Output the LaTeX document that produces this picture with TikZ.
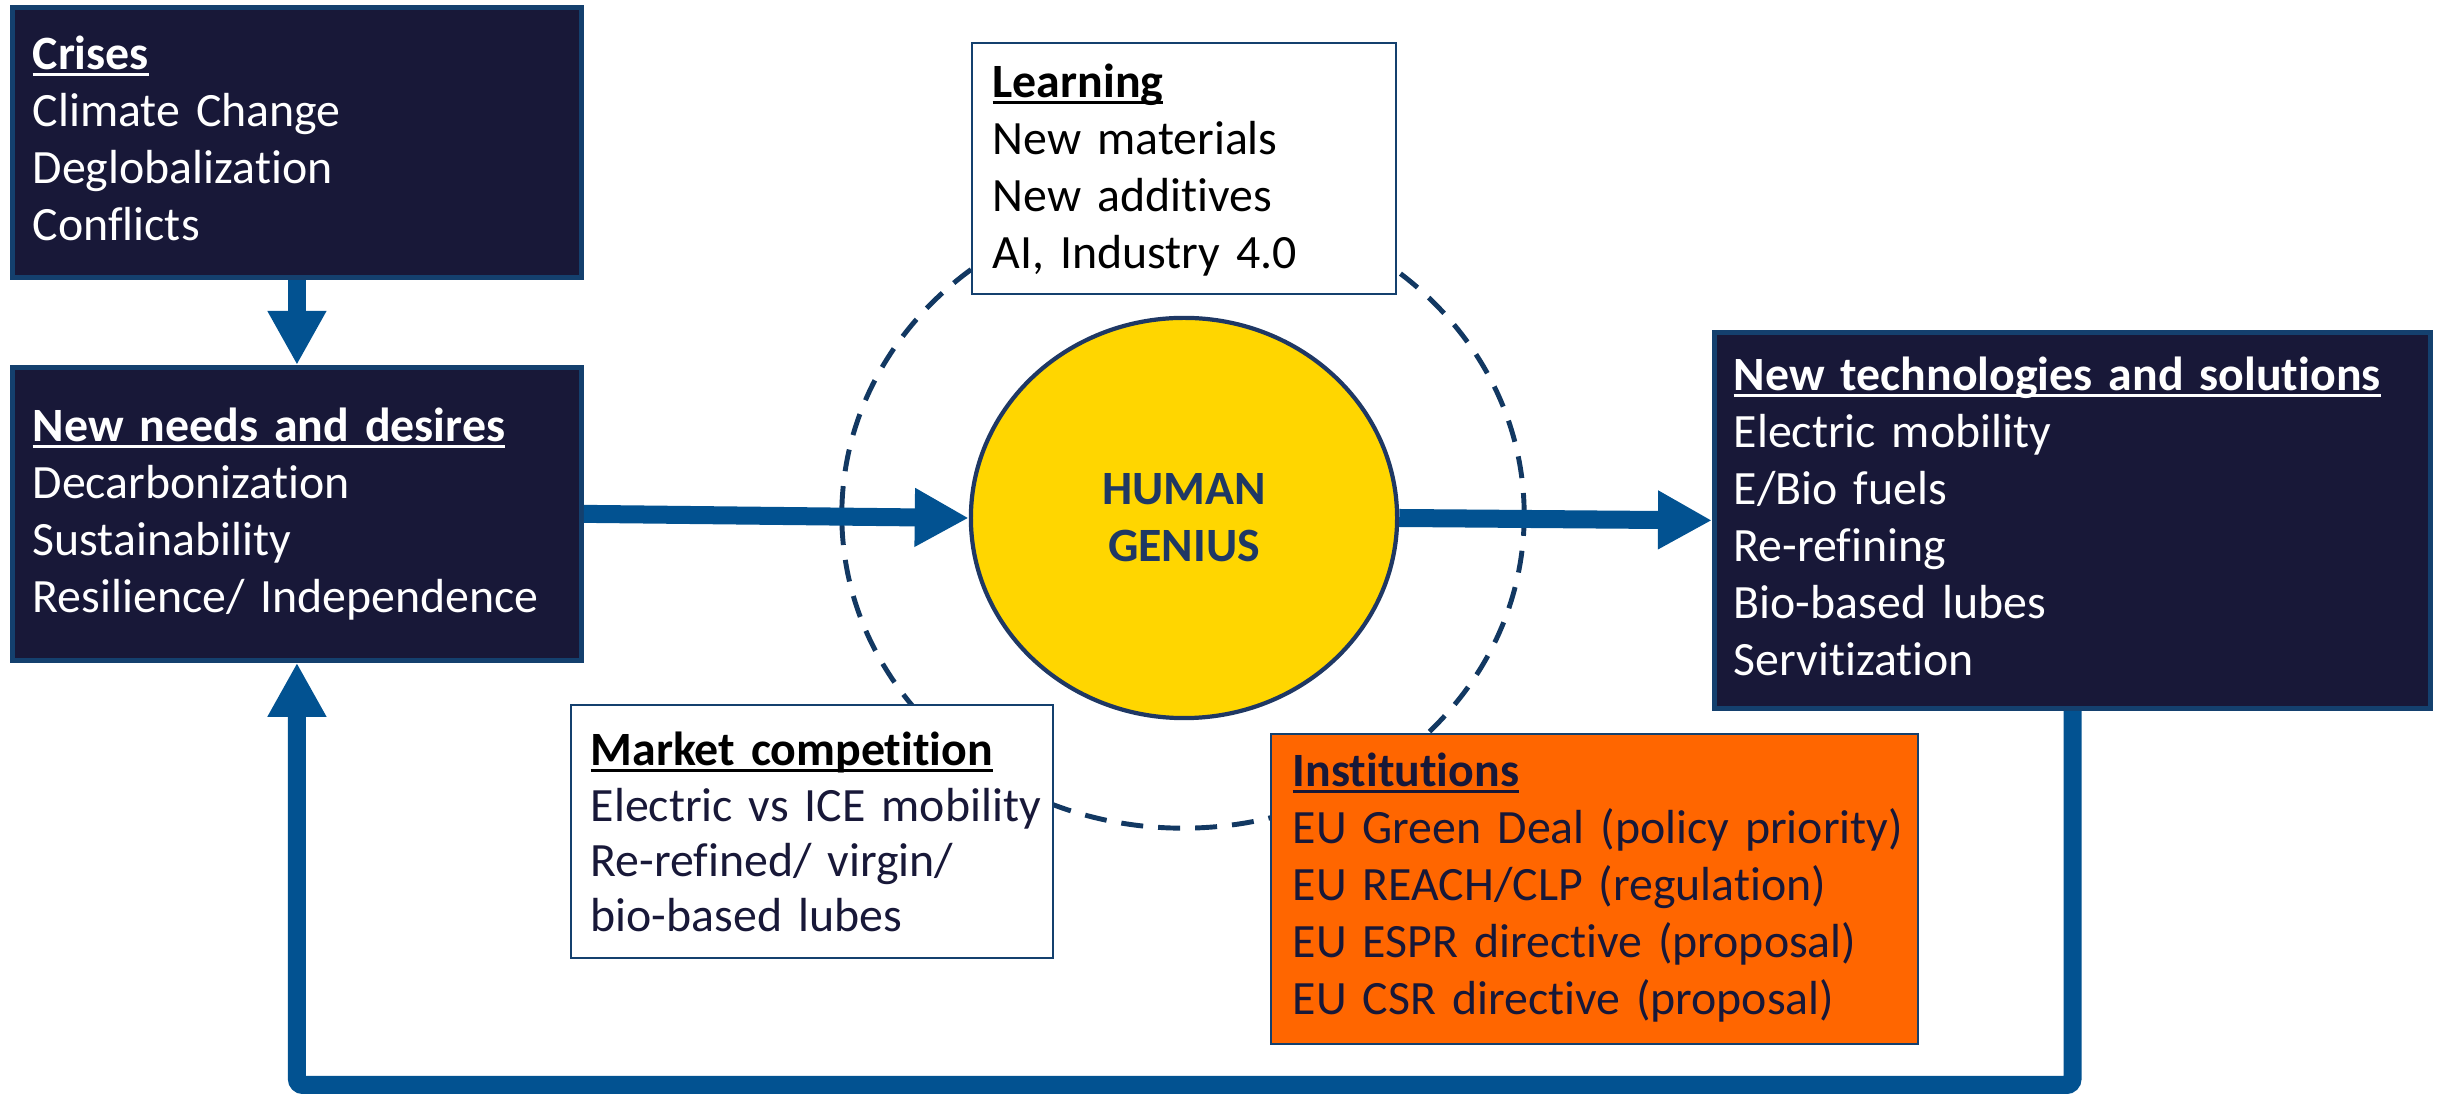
\documentclass[tikz,border=0pt]{standalone}
\usepackage{fontspec}
\setmainfont{Carlito}[Ligatures=CommonOff]
\usetikzlibrary{arrows.meta,shapes.geometric}
\definecolor{NavyClr}{RGB}{24,24,56}
\definecolor{FrameClr}{RGB}{20,64,110}
\definecolor{RingClr}{RGB}{18,56,98}
\definecolor{ArrowClr}{RGB}{2,82,145}
\definecolor{GeniusClr}{RGB}{255,214,0}
\definecolor{GeniusTxtClr}{RGB}{31,56,100}
\definecolor{InstClr}{RGB}{255,102,0}
\newsavebox\headbox
\newcommand\headline[1]{\sbox\headbox{\bfseries #1}\rlap{\rule[-0.13em]{\wd\headbox}{0.07em}}\usebox\headbox}

\begin{document}
\begin{tikzpicture}[x=0.01cm,y=-0.01cm,
  darkbox/.style={draw=FrameClr,line width=1.3pt,fill=NavyClr,anchor=north west,inner sep=0pt},
  lightbox/.style={draw=FrameClr,line width=0.6pt,fill=white,anchor=north west,inner sep=0pt},
  boxtext/.style={anchor=base west,inner sep=0pt,align=left,text width=#1,font=\fontsize{13.6}{16.2}\selectfont},
  flow/.style={draw=ArrowClr,line width=0.18cm,-{Triangle[width=0.55cm,length=0.54cm]}}]
\useasboundingbox (0,0) rectangle (2438,1095);

% Ring round the genius.
\draw[RingClr,line width=1.4pt,dash pattern=on 0.22cm off 0.15cm] (1183,515) ellipse [x radius=3.41cm,y radius=3.13cm];

% Boxes.
\node[darkbox,minimum width=5.69cm,minimum height=2.70cm] (crises) at (10,5) {};
\node[darkbox,minimum width=5.69cm,minimum height=2.93cm] (needs) at (10,365) {};
\node[darkbox,minimum width=7.16cm,minimum height=3.76cm] (newtech) at (1712,330) {};
\node[lightbox,minimum width=4.24cm,minimum height=2.51cm] (learning) at (971,42) {};
\node[lightbox,minimum width=4.82cm,minimum height=2.53cm] (market) at (570,704) {};
\node[lightbox,fill=InstClr,minimum width=6.47cm,minimum height=3.10cm] (inst) at (1270,733) {};

\node[ellipse,draw=GeniusTxtClr,line width=1.2pt,fill=GeniusClr,minimum width=4.26cm,minimum height=4.00cm,
  inner sep=0pt,align=center,text=GeniusTxtClr,font=\fontsize{13.6}{16.2}\selectfont\bfseries] (human) at (1184,518) {HUMAN\\GENIUS};

% Texts.
\node[boxtext=5.3cm,text=white] (crisestxt) at (32,70) {\headline{Crises}\\Climate Change\\Deglobalization\\Conflicts};
\node[boxtext=5.3cm,text=white] (needstxt) at (32,442) {\headline{New needs and desires}\\Decarbonization\\Sustainability\\Resilience/ Independence};
\node[boxtext=6.8cm,text=white] (newtechtxt) at (1733,391) {\headline{New technologies and solutions}\\Electric mobility\\E/Bio fuels\\Re-refining\\Bio-based lubes\\Servitization};
\node[boxtext=3.9cm,text=black] (learningtxt) at (992,98) {\headline{Learning}\\New materials\\New additives\\AI, Industry 4.0};
\node[boxtext=4.5cm,text=NavyClr,font=\fontsize{13.6}{15.7}\selectfont] (markettxt) at (590,766) {{\color{black}\headline{Market competition}}\\Electric vs ICE mobility\\Re-refined/ virgin/\\bio-based lubes};
\node[boxtext=6.2cm,text=NavyClr] (insttxt) at (1292,787) {\headline{Institutions}\\EU Green Deal (policy priority)\\EU REACH/CLP (regulation)\\EU ESPR directive (proposal)\\EU CSR directive (proposal)};

% Arrows.
\draw[flow] (crises.south) -- (needs.north);
\draw[flow] (needs.east) -- (human.west);
\draw[flow] (human.east) -- (newtech.west);

\coordinate (loop) at (2070,1085);
\draw[flow,rounded corners=0.06cm] (newtech.south) -- (newtech.south |- loop) -- (needs.south |- loop) -- (needs.south);

\end{tikzpicture}
\end{document}
